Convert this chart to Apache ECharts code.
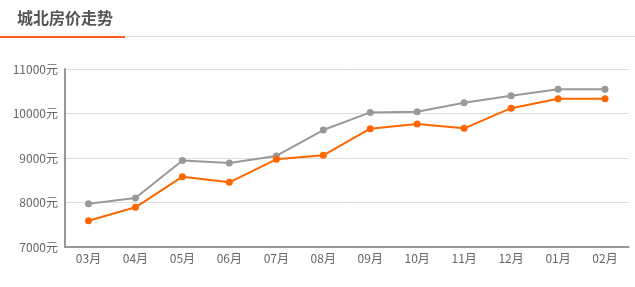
<!DOCTYPE html>
<html><head><meta charset="utf-8">
<script src="https://cdn.jsdelivr.net/npm/echarts@6/dist/echarts.min.js"></script>
<style>html,body{margin:0;padding:0;background:#fff}#c{width:635px;height:287px}</style>
</head><body><div id="c"></div>
<script>
const categories = ['03月','04月','05月','06月','07月','08月','09月','10月','11月','12月','01月','02月'];
const grayValues = [7970, 8100, 8944, 8888, 9045, 9629, 10025, 10040, 10243, 10400, 10543, 10543];
const orangeValues = [7591, 7892, 8580, 8453, 8971, 9061, 9658, 9764, 9667, 10120, 10330, 10330];
const titleText = '城北房价走势';

const chart = echarts.init(document.getElementById('c'));
chart.setOption({
  animation: false,
  title: { text: titleText, left: 17, top: 10, padding: 0, textStyle: { fontSize: 16, fontWeight: 'bold', color: '#555', fontFamily: 'Noto Sans CJK SC' } },
  graphic: [
    { type: 'rect', shape: { x: 0, y: 36, width: 635, height: 1 }, style: { fill: '#ddd' } },
    { type: 'rect', shape: { x: 0, y: 36, width: 125, height: 2 }, style: { fill: '#ff5a1f' } }
  ],
  grid: { left: 65, right: 6.5, top: 69, bottom: 40 },
  xAxis: {
    type: 'category', data: categories, boundaryGap: true,
    axisLine: { lineStyle: { color: '#999', width: 2 } },
    axisTick: { alignWithLabel: true, lineStyle: { color: '#ccc' }, length: 4 },
    axisLabel: { color: '#666', fontSize: 12, margin: 5, fontFamily: 'Noto Sans CJK SC' }
  },
  yAxis: {
    type: 'value', min: 7000, max: 11000, interval: 1000,
    axisLine: { show: true, lineStyle: { color: '#999', width: 2 } },
    axisTick: { show: false },
    splitLine: { lineStyle: { color: '#ddd' } },
    axisLabel: { color: '#666', fontSize: 12, margin: 7, formatter: function (v) { return v + '元'; }, fontFamily: 'Noto Sans CJK SC' }
  },
  series: [
    { type: 'line', data: grayValues, symbol: 'circle', symbolSize: 7, itemStyle: { color: '#999' }, lineStyle: { color: '#999', width: 2 } },
    { type: 'line', data: orangeValues, symbol: 'circle', symbolSize: 7, itemStyle: { color: '#ff6600' }, lineStyle: { color: '#ff6600', width: 2 } }
  ]
});
</script></body></html>
